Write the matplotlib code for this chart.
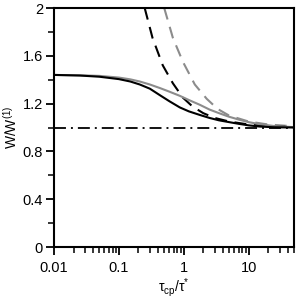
import matplotlib
matplotlib.use("Agg")
import matplotlib.pyplot as plt
from matplotlib.ticker import FixedLocator, LogLocator, MultipleLocator, FuncFormatter, NullFormatter

plt.rcParams['font.family'] = ['Liberation Sans', 'DejaVu Sans']
plt.rcParams['mathtext.fontset'] = 'custom'
plt.rcParams['mathtext.rm'] = 'Liberation Sans'
plt.rcParams['lines.scale_dashes'] = False

# data
x_solid = [0.01, 0.025, 0.05, 0.1, 0.15, 0.21, 0.30, 0.43, 0.6, 0.87, 1.2, 1.77, 2.5, 3.5, 5.0, 7.2, 10, 14.8, 25, 50]
black_solid = [1.44, 1.435, 1.425, 1.405, 1.385, 1.36, 1.325, 1.27, 1.22, 1.168, 1.135, 1.105, 1.08, 1.06, 1.045, 1.03, 1.018, 1.008, 1.002, 1.0]
gray_solid = [1.44, 1.437, 1.432, 1.418, 1.403, 1.385, 1.36, 1.33, 1.30, 1.265, 1.23, 1.19, 1.15, 1.12, 1.09, 1.065, 1.045, 1.028, 1.012, 1.003]

x_bdash = [0.25, 0.33, 0.475, 0.68, 0.97, 1.37, 2.0, 3.0, 5.0, 10, 20, 50]
black_dash = [2.0, 1.75, 1.52, 1.37, 1.25, 1.175, 1.12, 1.08, 1.05, 1.025, 1.012, 1.005]

x_gdash = [0.5, 0.68, 0.97, 1.48, 2.26, 3.33, 5.0, 10, 20, 50]
gray_dash = [2.0, 1.75, 1.55, 1.36, 1.24, 1.155, 1.10, 1.05, 1.025, 1.01]

ref_level = 1.0

x_ticks = [0.01, 0.1, 1, 10]
y_ticks = [0, 0.4, 0.8, 1.2, 1.6, 2.0]

fig = plt.figure(figsize=(2.96, 2.99), dpi=100)
ax = fig.add_axes([0.1824, 0.1739, 0.8108, 0.7993])

gray = '#8c8c8c'
ax.axhline(ref_level, color='black', lw=1.3, dashes=(8.6, 3.6, 1.4, 3.6))
ax.plot(x_gdash, gray_dash, color=gray, lw=1.5, dashes=(8.6, 5.5))
ax.plot(x_bdash, black_dash, color='black', lw=1.5, dashes=(8.6, 5.5))
ax.plot(x_solid, gray_solid, color=gray, lw=1.5)
ax.plot(x_solid, black_solid, color='black', lw=1.5)

ax.set_xscale('log')
ax.set_xlim(0.01, 50)
ax.set_ylim(0, 2)
ax.xaxis.set_major_locator(FixedLocator(x_ticks))
ax.xaxis.set_major_formatter(FuncFormatter(lambda v, p: '%g' % v))
ax.xaxis.set_minor_locator(LogLocator(base=10, subs=range(2, 10)))
ax.xaxis.set_minor_formatter(NullFormatter())
ax.yaxis.set_major_locator(FixedLocator(y_ticks))
ax.yaxis.set_major_formatter(FuncFormatter(lambda v, p: '%g' % v))
ax.yaxis.set_minor_locator(MultipleLocator(0.2))

for s in ax.spines.values():
    s.set_linewidth(1.5)
ax.tick_params(which='major', direction='out', length=6, width=1.3, labelsize=10.5, pad=2)
ax.tick_params(which='minor', direction='out', length=4, width=1.1)
ax.tick_params(axis='x', which='major', pad=4)

ax.set_ylabel(r'$\mathregular{W/W^{(1)}}$', fontsize=10, labelpad=2)
ax.set_xlabel(r'$\mathregular{τ_{cp}/τ^{*}}$', fontsize=10, labelpad=1)

fig.savefig('out.png', dpi=100)
